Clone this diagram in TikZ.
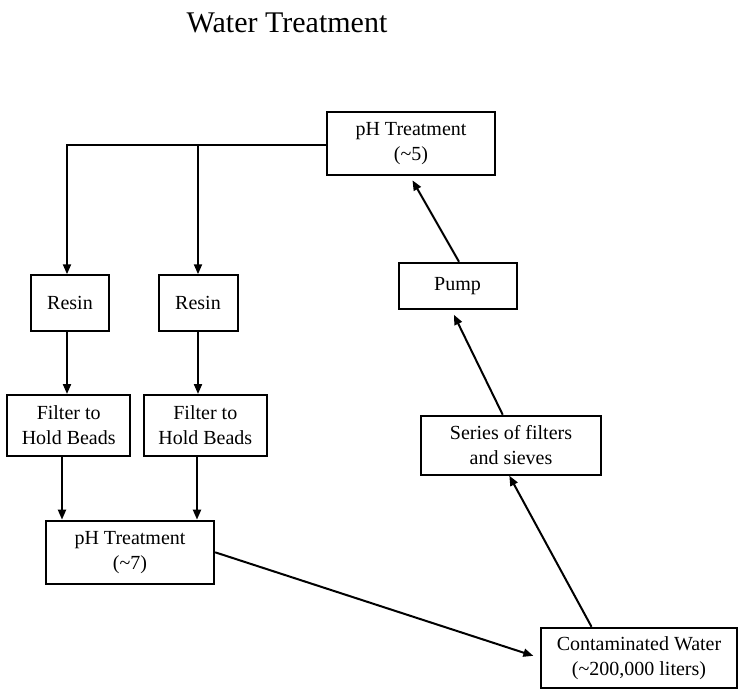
\documentclass[tikz,border=0pt]{standalone}
\usepackage{fontspec}
\setmainfont{Liberation Serif}
\usetikzlibrary{arrows.meta}
\begin{document}
\begin{tikzpicture}[x=1pt,y=-1pt,
  box/.style={draw, line width=2pt, align=center, inner sep=0pt,
    font=\fontsize{20}{25}\selectfont},
  conn/.style={line width=2pt, -{Triangle[length=10pt,width=8pt]}},
  plain/.style={line width=2pt}]
\useasboundingbox (0,0) rectangle (738,690);
\node[anchor=base, font=\fontsize{30}{36}\selectfont] (title) at (287,33) {Water Treatment};
\node[box, minimum width=168pt, minimum height=63pt] (ph5) at (411,143.5) {pH Treatment\\(\textasciitilde5)};
\node[box, minimum width=118pt, minimum height=46.5pt] (pump) at (457.5,286) {Pump};
\node[box, minimum width=78pt, minimum height=55.5pt] (resin1) at (70,303) {Resin};
\node[box, minimum width=79pt, minimum height=55.5pt] (resin2) at (198,303) {Resin};
\node[box, minimum width=122.7pt, minimum height=61pt] (filt1) at (68.7,425.5) {Filter to\\Hold Beads};
\node[box, minimum width=122.7pt, minimum height=61pt] (filt2) at (205.3,425.5) {Filter to\\Hold Beads};
\node[box, minimum width=168.3pt, minimum height=63.3pt] (ph7) at (130,552.3) {pH Treatment\\(\textasciitilde7)};
\node[box, minimum width=179.7pt, minimum height=59pt] (series) at (511,445.2) {Series of filters\\and sieves};
\node[box, minimum width=196pt, minimum height=60.5pt] (cont) at (639,658) {Contaminated Water\\(\textasciitilde200,000 liters)};
% top distribution
\coordinate (j1) at (67,145);
\coordinate (j2) at (198,145);
\draw[plain] (ph5.west |- j2) -- (j2);
\draw[conn] (j2) -- (j1) -- (j1 |- resin1.north);
\draw[conn] (j2) -- (j2 |- resin2.north);
% resin -> filter
\draw[conn] (j1 |- resin1.south) -- (j1 |- filt1.north);
\draw[conn] (j2 |- resin2.south) -- (j2 |- filt2.north);
% filter -> pH7
\draw[conn] ([xshift=-6.7pt]filt1.south) -- ([xshift=-6.7pt]filt1.south |- ph7.north);
\draw[conn] ([xshift=-8.3pt]filt2.south) -- ([xshift=-8.3pt]filt2.south |- ph7.north);
% pH7 -> contaminated
\draw[conn, shorten >=7pt] (ph7.east) -- (cont.west);
% contaminated -> series
\draw[conn] ([xshift=-47.5pt]cont.north) -- ([xshift=-1.7pt]series.south);
% series -> pump
\draw[conn, shorten >=5pt] ([xshift=-8.3pt]series.north) -- ([xshift=-5.8pt]pump.south);
% pump -> pH5
\draw[conn, shorten >=5pt] ([xshift=1.5pt]pump.north) -- ([xshift=-1pt]ph5.south);
\end{tikzpicture}
\end{document}
